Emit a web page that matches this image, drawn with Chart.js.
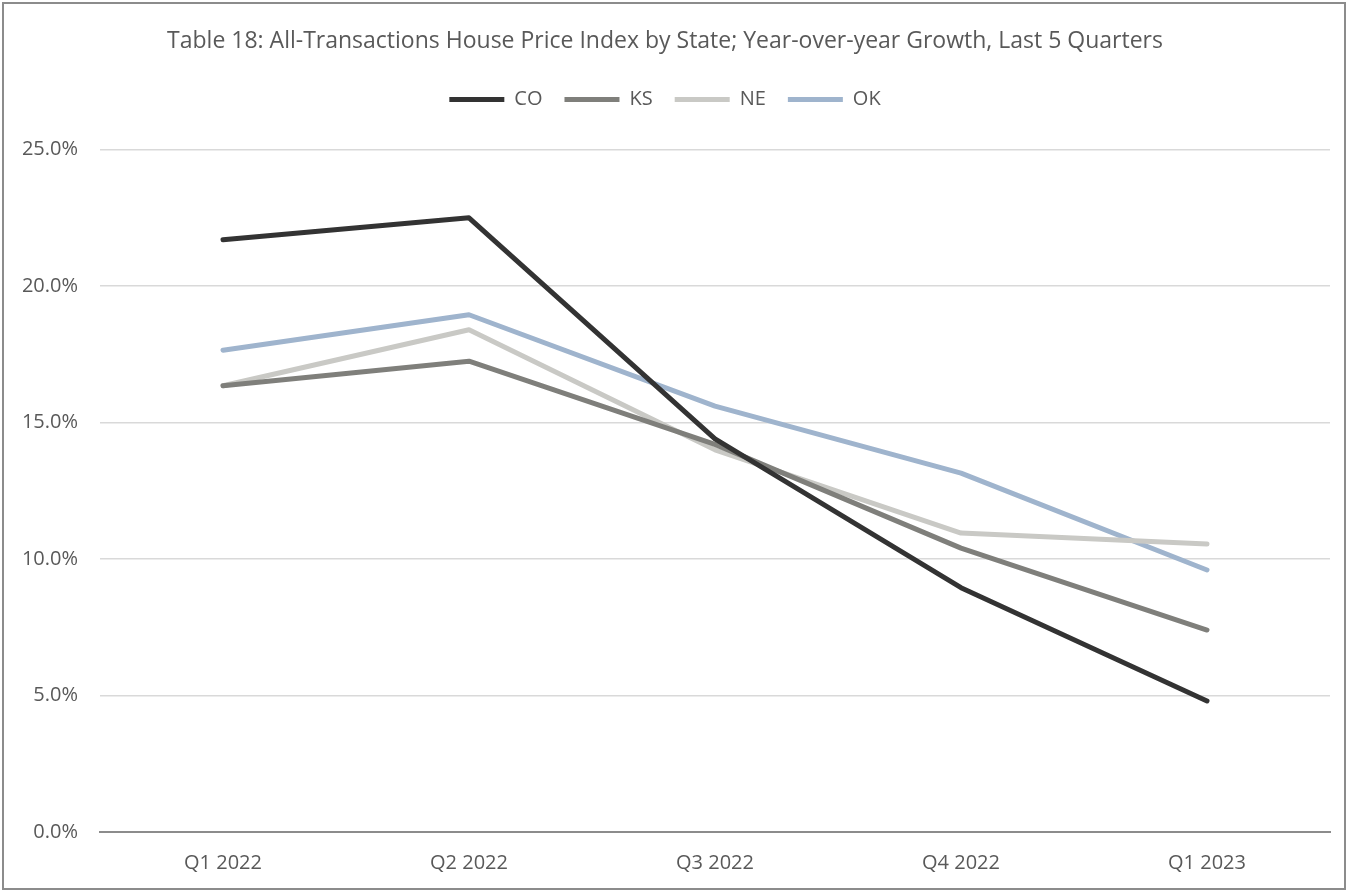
<!DOCTYPE html>
<html>
<head>
<meta charset="utf-8">
<script src="https://cdn.jsdelivr.net/npm/chart.js@4/dist/chart.umd.min.js"></script>
<style>
  html, body { margin: 0; padding: 0; background: #fff; }
  #frame { position: absolute; left: 2px; top: 2px; width: 1340px; height: 884px; border: 2px solid #8c8c8c; }
  #wrap { position: absolute; left: 0; top: 0; width: 1350px; height: 890px; }
</style>
</head>
<body>
<div id="frame"></div>
<div id="wrap"><canvas id="myChart" width="1350" height="890"></canvas></div>
<script>
var quarters = ['Q1 2022', 'Q2 2022', 'Q3 2022', 'Q4 2022', 'Q1 2023'];
var coValues = [21.7, 22.5, 14.4, 8.95, 4.8];
var ksValues = [16.35, 17.25, 14.2, 10.4, 7.4];
var neValues = [16.35, 18.4, 14.0, 10.95, 10.55];
var okValues = [17.65, 18.95, 15.6, 13.15, 9.6];
var yTicks = [0, 5, 10, 15, 20, 25];

var textColor = '#595959';
var fontFamily = '"Open Sans", "DejaVu Sans", sans-serif';

function series(label, values, color) {
  return {
    label: label,
    data: values,
    borderColor: color,
    backgroundColor: color,
    borderWidth: 5,
    borderCapStyle: 'round',
    borderJoinStyle: 'round',
    pointRadius: 0,
    tension: 0
  };
}

// push the plot down below the legend
var legendGap = {
  id: 'legendGap',
  beforeLayout: function(chart) {
    var lg = chart.legend;
    if (lg && !lg._gapPatched) {
      lg._gapPatched = true;
      var fit = lg.fit;
      lg.fit = function() {
        fit.call(this);
        this.height += 30;
      };
    }
  }
};

var ctx = document.getElementById('myChart').getContext('2d');

new Chart(ctx, {
  type: 'line',
  data: {
    labels: quarters,
    datasets: [
      series('CO', coValues, '#333333'),
      series('KS', ksValues, '#7f7f7b'),
      series('NE', neValues, '#c9c9c5'),
      series('OK', okValues, '#9fb4cd')
    ]
  },
  plugins: [legendGap],
  options: {
    responsive: false,
    animation: false,
    layout: { padding: { left: 0, right: 20, top: 0, bottom: 6 } },
    plugins: {
      title: {
        display: true,
        text: 'Table 18: All-Transactions House Price Index by State; Year-over-year Growth, Last 5 Quarters',
        color: textColor,
        font: { family: fontFamily, size: 23, weight: 'normal' },
        padding: { top: 28, bottom: 12 }
      },
      legend: {
        display: true,
        labels: {
          usePointStyle: true,
          pointStyle: 'line',
          pointStyleWidth: 55,
          padding: 22,
          color: textColor,
          font: { family: fontFamily, size: 20 }
        }
      },
      tooltip: { enabled: false }
    },
    scales: {
      x: {
        offset: true,
        grid: { display: false, drawTicks: false },
        border: { display: true, color: '#8c8c8c', width: 2 },
        ticks: { color: textColor, font: { family: fontFamily, size: 20 }, padding: 19, maxRotation: 0 },
        afterFit: function(s) { s.height = 52; }
      },
      y: {
        min: 0,
        max: 25,
        afterBuildTicks: function(s) { s.ticks = yTicks.map(function(v) { return { value: v }; }); },
        grid: { color: '#d9d9d9', lineWidth: 1.5, drawTicks: false },
        border: { display: false },
        ticks: {
          color: textColor,
          font: { family: fontFamily, size: 20 },
          padding: 22,
          callback: function(v) { return v.toFixed(1) + '%'; }
        },
        afterFit: function(s) { s.width = 100; }
      }
    }
  }
});
</script>
</body>
</html>
